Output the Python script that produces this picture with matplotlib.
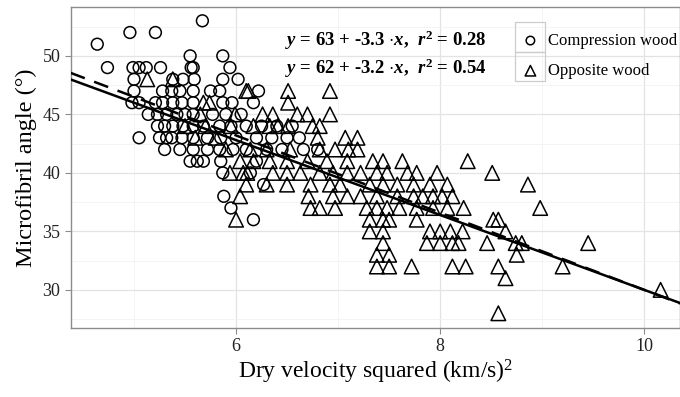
import numpy as np
import matplotlib
matplotlib.use('Agg')
import matplotlib.pyplot as plt
from matplotlib.patches import Rectangle
from matplotlib.ticker import MultipleLocator

plt.rcParams['font.family'] = ['Liberation Serif', 'DejaVu Serif']
plt.rcParams['mathtext.fontset'] = 'custom'
plt.rcParams['mathtext.rm'] = 'Liberation Serif'
plt.rcParams['mathtext.bf'] = 'Liberation Serif:bold'
plt.rcParams['mathtext.it'] = 'Liberation Serif:bold:italic'

# compression wood (circles)
cw_x = [4.64, 4.74, 4.96, 5.21, 5.67, 5.55, 5.87,
        4.99, 5.05, 5.12, 5.26, 5.56, 5.58, 5.94,
        5.00, 5.38, 5.48, 5.59, 5.87, 6.02,
        5.00, 5.28, 5.37, 5.45, 5.58, 5.75, 5.84, 6.22,
        4.98, 5.05, 5.21, 5.28, 5.38, 5.47, 5.58, 5.87, 5.96, 6.17,
        5.14, 5.23, 5.32, 5.42, 5.50, 5.58, 5.77, 5.90, 6.05,
        5.23, 5.30, 5.38, 5.48, 5.58, 5.68, 5.84, 5.95, 6.10, 6.25, 6.40, 6.55,
        5.05, 5.25, 5.32, 5.37, 5.47, 5.58, 5.72, 5.85, 6.00, 6.20, 6.35, 6.50, 6.62,
        5.30, 5.45, 5.58, 5.72, 5.84, 5.97, 6.10, 6.30, 6.45, 6.66, 6.80,
        5.55, 5.62, 5.68, 5.85, 6.20,
        5.87, 6.14,
        6.27, 5.88, 5.95, 6.17]
cw_y = [51, 49, 52, 52, 53, 50, 50,
        49, 49, 49, 49, 49, 49, 49,
        48, 48, 48, 48, 48, 48,
        47, 47, 47, 47, 47, 47, 47, 47,
        46, 46, 46, 46, 46, 46, 46, 46, 46, 46,
        45, 45, 45, 45, 45, 45, 45, 45, 45,
        44, 44, 44, 44, 44, 44, 44, 44, 44, 44, 44, 44,
        43, 43, 43, 43, 43, 43, 43, 43, 43, 43, 43, 43, 43,
        42, 42, 42, 42, 42, 42, 42, 42, 42, 42, 42,
        41, 41, 41, 41, 41,
        40, 40,
        39, 38, 37, 36]

# opposite wood (triangles)
ow_x = [5.13, 5.38, 5.74, 5.68, 5.50, 5.60, 5.70, 5.80, 5.90, 5.95, 5.65,
        6.10, 6.12, 6.51, 6.92,
        6.51,
        5.99, 6.26, 6.36, 6.60, 6.70, 6.92,
        6.17, 6.33, 6.41, 6.51, 6.75, 6.82,
        6.80, 7.07, 7.19,
        6.14, 6.30, 6.53, 6.82, 6.97, 7.10, 7.19,
        6.04, 6.17, 6.33, 6.50, 6.70, 6.89, 7.09, 7.34, 7.44, 7.63, 8.27,
        5.94, 6.07, 6.11, 6.36, 6.50, 6.63, 6.82, 6.95, 7.09, 7.22, 7.38, 7.48, 7.68, 7.77, 7.97, 8.51,
        6.10, 6.30, 6.50, 6.73, 6.92, 7.02, 7.31, 7.44, 7.58, 7.74, 7.90, 8.07, 8.86,
        6.04, 6.71, 6.95, 7.09, 7.22, 7.38, 7.58, 7.74, 7.83, 7.93, 8.02, 8.12,
        6.73, 6.82, 6.97, 7.28, 7.38, 7.48, 7.60, 7.77, 7.93, 8.07, 8.23, 8.98,
        6.00, 7.31, 7.44, 7.50, 7.77, 8.52, 8.57,
        7.31, 7.44, 7.90, 8.00, 8.10, 8.22, 8.64,
        7.44, 7.87, 8.00, 8.12, 8.18, 8.46, 8.74, 8.80, 9.45,
        7.38, 7.50, 8.75,
        7.38, 7.50, 7.72, 8.12, 8.25, 8.57, 9.20,
        8.64, 10.16, 8.57]
ow_y = [48, 48, 46, 46, 44, 43, 44, 43, 42, 44, 45,
        47, 47, 47, 47,
        46,
        45, 45, 45, 45, 45, 45,
        44, 44, 44, 44, 44, 44,
        43, 43, 43,
        42, 42, 42, 42, 42, 42, 42,
        41, 41, 41, 41, 41, 41, 41, 41, 41, 41, 41,
        40, 40, 40, 40, 40, 40, 40, 40, 40, 40, 40, 40, 40, 40, 40, 40,
        39, 39, 39, 39, 39, 39, 39, 39, 39, 39, 39, 39, 39,
        38, 38, 38, 38, 38, 38, 38, 38, 38, 38, 38, 38,
        37, 37, 37, 37, 37, 37, 37, 37, 37, 37, 37, 37,
        36, 36, 36, 36, 36, 36, 36,
        35, 35, 35, 35, 35, 35, 35,
        34, 34, 34, 34, 34, 34, 34, 34, 34,
        33, 33, 33,
        32, 32, 32, 32, 32, 32, 32,
        31, 30, 28]

# fitted lines: intercept, slope, r^2
cw_fit = (63, -3.3, 0.28)
ow_fit = (62, -3.2, 0.54)

fig = plt.figure(figsize=(6.8, 3.97), dpi=100)
ax = fig.add_axes([0.104, 0.174, 0.896, 0.809])
xmin, xmax = 4.38, 10.35
ax.set_xlim(xmin, xmax)
ax.set_ylim(26.75, 54.2)

ax.scatter(cw_x, cw_y, s=72, marker='o', facecolors='none', edgecolors='black', linewidths=1.1,
           label='Compression wood', zorder=3)
ax.scatter(ow_x, ow_y, s=110, marker='^', facecolors='none', edgecolors='black', linewidths=1.1,
           label='Opposite wood', zorder=3)

xs = np.array([xmin, xmax])
ax.plot(xs, cw_fit[0] + cw_fit[1] * xs, color='black', lw=1.8, ls=(0, (6, 4)), zorder=4)
ax.plot(xs, ow_fit[0] + ow_fit[1] * xs, color='black', lw=1.8, zorder=4)

for fit, yy in [(cw_fit, 0.896), (ow_fit, 0.809)]:
    txt = r'$y$ = %d + %.1f $\cdot x$,  $r^{\mathbf{2}}$ = %.2f' % (fit[0], fit[1], fit[2])
    ax.text(0.517, yy, txt, transform=ax.transAxes, ha='center', va='center',
            fontsize=13.5, fontweight='bold', zorder=5)

ax.xaxis.set_major_locator(MultipleLocator(2))
ax.xaxis.set_minor_locator(MultipleLocator(1))
ax.yaxis.set_major_locator(MultipleLocator(5))
ax.yaxis.set_minor_locator(MultipleLocator(2.5))
ax.grid(which='major', color='#e3e3e3', lw=0.9)
ax.grid(which='minor', color='#f2f2f2', lw=0.6)
ax.set_axisbelow(True)
for sp in ax.spines.values():
    sp.set_color('#8c8c8c')
    sp.set_linewidth(1.0)
ax.tick_params(which='major', length=4, color='#8c8c8c', labelsize=13, labelcolor='#222222')
ax.tick_params(which='minor', length=0)

ax.set_xlabel(r'Dry velocity squared (km/s)$^{\mathrm{2}}$', fontsize=17, labelpad=2)
ax.set_ylabel('Microfibril angle (°)', fontsize=17.5, labelpad=4)

leg = ax.legend(loc='upper right', bbox_to_anchor=(1.017, 0.96), frameon=False, fontsize=12,
                handletextpad=0.1, handlelength=1.9, borderpad=0.3, labelspacing=0.85,
                scatterpoints=1, markerscale=0.72)
for r in [(0.729, 0.859, 0.049, 0.093), (0.729, 0.769, 0.049, 0.090)]:
    ax.add_patch(Rectangle(r[:2], r[2], r[3], transform=ax.transAxes, fill=False,
                           edgecolor='#cccccc', lw=0.9, zorder=2))

fig.savefig('out.png', dpi=100)
